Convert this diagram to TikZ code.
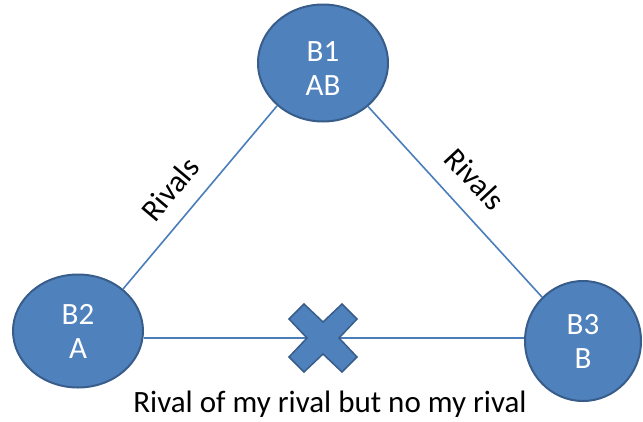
\documentclass[tikz,border=0pt]{standalone}
\usepackage{fontspec}
\setmainfont{Carlito}
\usetikzlibrary{shapes.geometric}
\definecolor{bfill}{HTML}{4F81BD}
\definecolor{bdraw}{HTML}{385D8A}
\definecolor{bline}{HTML}{4A7EBB}
\tikzset{
  bubble/.style={ellipse, fill=bfill, draw=bdraw, line width=2pt, inner sep=0pt},
  bubtext/.style={text=white, align=center, font=\fontsize{31}{34}\selectfont, inner sep=0pt},
  conn/.style={draw=bline, line width=1.6pt},
  lbl/.style={text=black, font=\fontsize{31}{34}\selectfont, inner sep=0pt},
  cross/.style={fill=bfill, draw=bdraw, line width=1.5pt, line join=miter}
}
\begin{document}
\begin{tikzpicture}[x=1pt,y=-1pt]
\useasboundingbox (0,0) rectangle (643,421);
% bubbles
\node[bubble, minimum width=130pt, minimum height=117pt] (B1) at (323,63) {};
\node[bubble, minimum width=130pt, minimum height=113pt] (B2) at (78,331) {};
\node[bubble, minimum width=116pt, minimum height=120pt] (B3) at (583,341) {};
\coordinate (X) at (323,338);
% connectors
\draw[conn] (B1.223) -- (B2.43);
\draw[conn] (B1.316) -- (B3.133);
\draw[conn] (B2.east |- X) -- (B3.west |- X);
% cross mark
\draw[cross, shift={(X)}]
  (0,-16) -- (19,-34) -- (34,-19) -- (16,0) -- (34,19) -- (19,34) --
  (0,16) -- (-19,34) -- (-34,19) -- (-16,0) -- (-34,-19) -- (-19,-34) -- cycle;
% texts
\node[bubtext] (B1t) at ([yshift=-6pt]B1.center) {B1\\AB};
\node[bubtext] (B2t) at (B2.center) {B2\\A};
\node[bubtext] (B3t) at (B3.center) {B3\\B};
\node[lbl, rotate=50] (R1) at (170,189) {Rivals};
\node[lbl, rotate=-47] (R2) at (475,179) {Rivals};
\node[lbl, anchor=base] (bottom) at (330,412) {Rival of my rival but no my rival};
\end{tikzpicture}
\end{document}
